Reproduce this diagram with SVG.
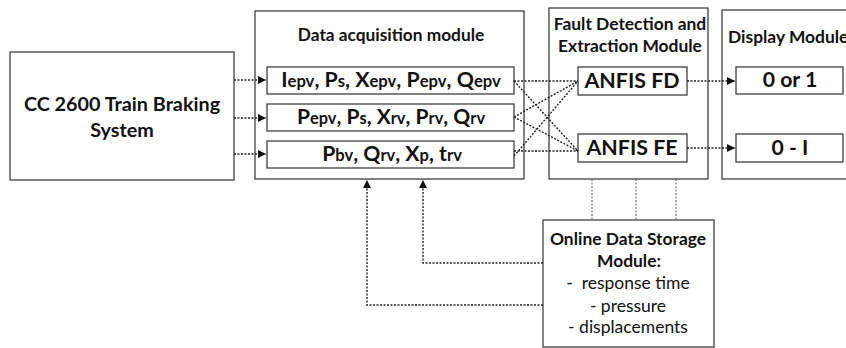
<svg xmlns="http://www.w3.org/2000/svg" width="846" height="348" viewBox="0 0 846 348">
<defs>
<style>
.box{fill:#fff;stroke:#404040;stroke-width:1.3}
.t{font-family:Lato,"Liberation Sans",sans-serif;font-weight:bold;fill:#111;text-anchor:middle}
.r{font-family:Lato,"Liberation Sans",sans-serif;fill:#111;text-anchor:middle}
.c{fill:none;stroke:#222;stroke-width:1.4;stroke-dasharray:2 1.5}
.cg{fill:none;stroke:#777;stroke-width:1.2;stroke-dasharray:2 1.5}
.s{font-size:0.78em}
</style>
<marker id="ah" viewBox="0 0 10 10" refX="10" refY="5" markerWidth="8" markerHeight="8" markerUnits="userSpaceOnUse" orient="auto">
<path d="M0,0 L10,5 L0,10 z" fill="#111"/>
</marker>
</defs>
<rect width="846" height="348" fill="#fff"/>

<g id="cc2600">
<rect class="box" x="10" y="52" width="224" height="128"/>
<text class="t" x="122" y="111" font-size="19.8">CC 2600 Train Braking</text>
<text class="t" x="122" y="137" font-size="19.8">System</text>
</g>

<g id="data-acquisition">
<rect class="box" x="255" y="11" width="269" height="168"/>
<text class="t" x="391" y="41" font-size="17.3">Data acquisition module</text>
</g>
<g id="row1">
<rect class="box" x="267" y="67" width="247" height="27"/>
<text class="t" x="391" y="87" font-size="21.3">I<tspan class="s">epv</tspan>, P<tspan class="s">s</tspan>, X<tspan class="s">epv</tspan>, P<tspan class="s">epv</tspan>, Q<tspan class="s">epv</tspan></text>
</g>
<g id="row2">
<rect class="box" x="267" y="104" width="247" height="27"/>
<text class="t" x="391" y="124" font-size="21">P<tspan class="s">epv</tspan>, P<tspan class="s">s</tspan>, X<tspan class="s">rv</tspan>, P<tspan class="s">rv</tspan>, Q<tspan class="s">rv</tspan></text>
</g>
<g id="row3">
<rect class="box" x="267" y="141" width="247" height="27"/>
<text class="t" x="392" y="161" font-size="21.2">P<tspan class="s">bv</tspan>, Q<tspan class="s">rv</tspan>, X<tspan class="s">p</tspan>, t<tspan class="s">rv</tspan></text>
</g>

<g id="fault-module">
<rect class="box" x="549" y="8" width="159" height="171"/>
<text class="t" x="630" y="30" font-size="17.4">Fault Detection and</text>
<text class="t" x="630" y="52" font-size="17.4">Extraction Module</text>
</g>
<g id="anfis-fd">
<rect class="box" x="578" y="67" width="109" height="28"/>
<text class="t" x="632" y="88" font-size="21.4">ANFIS FD</text>
</g>
<g id="anfis-fe">
<rect class="box" x="578" y="134" width="109" height="28"/>
<text class="t" x="632" y="155" font-size="21.4">ANFIS FE</text>
</g>

<g id="display-module">
<rect class="box" x="722" y="10" width="140" height="169"/>
<text class="t" x="728" y="43" font-size="17.4" style="text-anchor:start">Display Module</text>
</g>
<g id="out1">
<rect class="box" x="736" y="67" width="107" height="27"/>
<text class="t" x="790" y="87" font-size="21.2">0 or 1</text>
</g>
<g id="out2">
<rect class="box" x="736" y="134" width="107" height="28"/>
<text class="t" x="790" y="155" font-size="21.2">0 - I</text>
</g>

<g id="storage">
<rect class="box" x="543" y="220" width="171" height="127"/>
<text class="t" x="628" y="245" font-size="17.4">Online Data Storage</text>
<text class="t" x="629" y="267" font-size="17.4">Module:</text>
<text class="r" x="628" y="289" font-size="17.5" xml:space="preserve">-  response time</text>
<text class="r" x="628" y="312" font-size="17.5">- pressure</text>
<text class="r" x="628" y="333" font-size="17.5">- displacements</text>
</g>

<g id="connectors">
<path class="c" d="M234,80 H266" marker-end="url(#ah)"/>
<path class="c" d="M234,118 H266" marker-end="url(#ah)"/>
<path class="c" d="M234,154 H266" marker-end="url(#ah)"/>
<path class="c" d="M514,81 H578"/>
<path class="c" d="M514,81 L578,151"/>
<path class="c" d="M514,117 L578,81"/>
<path class="c" d="M514,117 L578,151"/>
<path class="c" d="M514,156 L578,81"/>
<path class="c" d="M514,151 H578"/>
<path class="c" d="M687,81 H735" marker-end="url(#ah)"/>
<path class="c" d="M687,148 H735" marker-end="url(#ah)"/>
<path class="cg" d="M592,179 V220"/>
<path class="cg" d="M636,179 V220"/>
<path class="cg" d="M676,179 V220"/>
<path class="c" d="M543,263 H423 V180" marker-end="url(#ah)"/>
<path class="c" d="M543,305 H367 V180" marker-end="url(#ah)"/>
</g>
</svg>
